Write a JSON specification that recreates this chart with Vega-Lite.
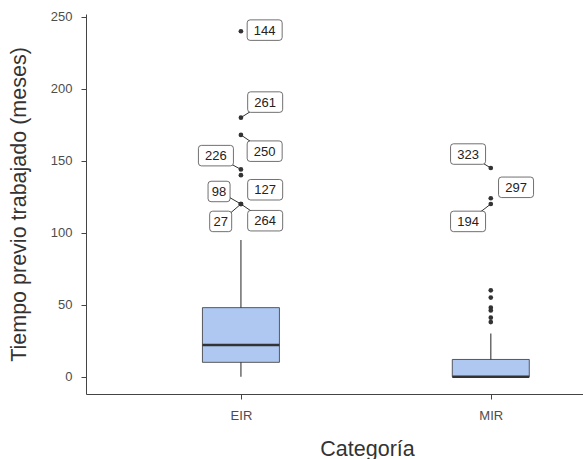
{
  "$schema": "https://vega.github.io/schema/vega-lite/v6.json",
  "autosize": {"type": "none"},
  "padding": {"left": 86, "top": 14, "right": 0, "bottom": 65},
  "width": 497,
  "height": 380,
  "background": "white",
  "config": {
    "view": {"stroke": null},
    "axis": {"grid": false, "tickSize": 5, "domainColor": "#444444", "tickColor": "#444444", "labelColor": "#4d4d4d",
      "labelFontSize": 13, "titleFontSize": 21.5, "titleColor": "#333333", "labelFont": "Liberation Sans",
      "titleFont": "Liberation Sans", "titleFontWeight": "normal"}
  },
  "datasets": {
    "stats": [
      {"cat": 1, "lower": 0, "q1": 10, "median": 22, "q3": 48, "upper": 95},
      {"cat": 2, "lower": 0, "q1": 0, "median": 0, "q3": 12, "upper": 30}
    ],
    "out": [
      {"cat": 1, "value": 240, "id": 144, "lx": 1.095, "ly": 240.8},
      {"cat": 1, "value": 180, "id": 261, "lx": 1.097, "ly": 190.8},
      {"cat": 1, "value": 168, "id": 250, "lx": 1.095, "ly": 156.7},
      {"cat": 1, "value": 144, "id": 226, "lx": 0.9, "ly": 153.6},
      {"cat": 1, "value": 140, "id": 127, "lx": 1.097, "ly": 129.9},
      {"cat": 1, "value": 120, "id": 98, "lx": 0.9125, "ly": 128.7},
      {"cat": 1, "value": 120, "id": 27, "lx": 0.919, "ly": 107.9},
      {"cat": 1, "value": 120, "id": 264, "lx": 1.097, "ly": 108.4},
      {"cat": 2, "value": 145, "id": 323, "lx": 1.909, "ly": 154.7},
      {"cat": 2, "value": 124, "id": 297, "lx": 2.101, "ly": 131.6},
      {"cat": 2, "value": 120, "id": 194, "lx": 1.909, "ly": 107.9},
      {"cat": 2, "value": 60, "id": null, "lx": null, "ly": null},
      {"cat": 2, "value": 55, "id": null, "lx": null, "ly": null},
      {"cat": 2, "value": 48, "id": null, "lx": null, "ly": null},
      {"cat": 2, "value": 46, "id": null, "lx": null, "ly": null},
      {"cat": 2, "value": 41, "id": null, "lx": null, "ly": null},
      {"cat": 2, "value": 38, "id": null, "lx": null, "ly": null}
    ]
  },
  "layer": [
    {
      "data": {"name": "stats"},
      "mark": {"type": "rule", "color": "#555555", "strokeWidth": 1.3},
      "encoding": {
        "x": {"field": "cat", "type": "quantitative", "scale": {"domain": [0.4, 2.349], "nice": false, "zero": false},
          "axis": {"values": [1, 2], "labelExpr": "datum.value == 1 ? 'EIR' : 'MIR'", "title": "Categoría", "titleX": 281, "labelPadding": 10, "titlePadding": 16}},
        "y": {"field": "lower", "type": "quantitative", "scale": {"domain": [-12, 252], "nice": false, "zero": false},
          "axis": {"values": [0, 50, 100, 150, 200, 250], "title": "Tiempo previo trabajado (meses)", "labelPadding": 9, "titlePadding": 20}},
        "y2": {"field": "upper"}
      }
    },
    {
      "data": {"name": "stats"},
      "mark": {"type": "bar", "width": 77, "fill": "#aec8f2", "stroke": "#333333", "strokeWidth": 0.8},
      "encoding": {
        "x": {"field": "cat", "type": "quantitative", "scale": {"domain": [0.4, 2.349], "nice": false, "zero": false},
          "axis": {"values": [1, 2], "labelExpr": "datum.value == 1 ? 'EIR' : 'MIR'", "title": "Categoría", "titleX": 281, "labelPadding": 10, "titlePadding": 16}},
        "y": {"field": "q1", "type": "quantitative", "scale": {"domain": [-12, 252], "nice": false, "zero": false},
          "axis": {"values": [0, 50, 100, 150, 200, 250], "title": "Tiempo previo trabajado (meses)", "labelPadding": 9, "titlePadding": 20}},
        "y2": {"field": "q3"}
      }
    },
    {
      "data": {"name": "stats"},
      "mark": {"type": "tick", "orient": "horizontal", "size": 77, "thickness": 2.5, "color": "#333333", "opacity": 1},
      "encoding": {
        "x": {"field": "cat", "type": "quantitative", "scale": {"domain": [0.4, 2.349], "nice": false, "zero": false},
          "axis": {"values": [1, 2], "labelExpr": "datum.value == 1 ? 'EIR' : 'MIR'", "title": "Categoría", "titleX": 281, "labelPadding": 10, "titlePadding": 16}},
        "y": {"field": "median", "type": "quantitative", "scale": {"domain": [-12, 252], "nice": false, "zero": false},
          "axis": {"values": [0, 50, 100, 150, 200, 250], "title": "Tiempo previo trabajado (meses)", "labelPadding": 9, "titlePadding": 20}}
      }
    },
    {
      "data": {"name": "out"},
      "transform": [{"filter": "datum.id != null && indexof([144, 127, 297], datum.id) < 0"}],
      "mark": {"type": "rule", "color": "#333333", "strokeWidth": 1},
      "encoding": {
        "x": {"field": "cat", "type": "quantitative", "scale": {"domain": [0.4, 2.349], "nice": false, "zero": false},
          "axis": {"values": [1, 2], "labelExpr": "datum.value == 1 ? 'EIR' : 'MIR'", "title": "Categoría", "titleX": 281, "labelPadding": 10, "titlePadding": 16}},
        "y": {"field": "value", "type": "quantitative", "scale": {"domain": [-12, 252], "nice": false, "zero": false},
          "axis": {"values": [0, 50, 100, 150, 200, 250], "title": "Tiempo previo trabajado (meses)", "labelPadding": 9, "titlePadding": 20}},
        "x2": {"field": "lx"},
        "y2": {"field": "ly"}
      }
    },
    {
      "data": {"name": "out"},
      "mark": {"type": "point", "filled": true, "color": "#333333", "size": 22, "opacity": 1},
      "encoding": {
        "x": {"field": "cat", "type": "quantitative", "scale": {"domain": [0.4, 2.349], "nice": false, "zero": false},
          "axis": {"values": [1, 2], "labelExpr": "datum.value == 1 ? 'EIR' : 'MIR'", "title": "Categoría", "titleX": 281, "labelPadding": 10, "titlePadding": 16}},
        "y": {"field": "value", "type": "quantitative", "scale": {"domain": [-12, 252], "nice": false, "zero": false},
          "axis": {"values": [0, 50, 100, 150, 200, 250], "title": "Tiempo previo trabajado (meses)", "labelPadding": 9, "titlePadding": 20}}
      }
    },
    {
      "data": {"name": "out"},
      "transform": [{"filter": "datum.id != null && datum.id >= 100"}],
      "mark": {"type": "point", "filled": true, "fill": "white", "stroke": "#333333", "strokeWidth": 0.7, "opacity": 1, "fillOpacity": 1, "size": 1225,
        "shape": "M-0.83,-0.586 L0.83,-0.586 Q1,-0.586 1,-0.416 L1,0.416 Q1,0.586 0.83,0.586 L-0.83,0.586 Q-1,0.586 -1,0.416 L-1,-0.416 Q-1,-0.586 -0.83,-0.586 Z"},
      "encoding": {
        "x": {"field": "lx", "type": "quantitative", "scale": {"domain": [0.4, 2.349], "nice": false, "zero": false},
          "axis": {"values": [1, 2], "labelExpr": "datum.value == 1 ? 'EIR' : 'MIR'", "title": "Categoría", "titleX": 281, "labelPadding": 10, "titlePadding": 16}},
        "y": {"field": "ly", "type": "quantitative", "scale": {"domain": [-12, 252], "nice": false, "zero": false},
          "axis": {"values": [0, 50, 100, 150, 200, 250], "title": "Tiempo previo trabajado (meses)", "labelPadding": 9, "titlePadding": 20}}
      }
    },
    {
      "data": {"name": "out"},
      "transform": [{"filter": "datum.id != null && datum.id < 100"}],
      "mark": {"type": "point", "filled": true, "fill": "white", "stroke": "#333333", "strokeWidth": 0.7, "opacity": 1, "fillOpacity": 1, "size": 484,
        "shape": "M-0.73,-0.93 L0.73,-0.93 Q1,-0.93 1,-0.66 L1,0.66 Q1,0.93 0.73,0.93 L-0.73,0.93 Q-1,0.93 -1,0.66 L-1,-0.66 Q-1,-0.93 -0.73,-0.93 Z"},
      "encoding": {
        "x": {"field": "lx", "type": "quantitative", "scale": {"domain": [0.4, 2.349], "nice": false, "zero": false},
          "axis": {"values": [1, 2], "labelExpr": "datum.value == 1 ? 'EIR' : 'MIR'", "title": "Categoría", "titleX": 281, "labelPadding": 10, "titlePadding": 16}},
        "y": {"field": "ly", "type": "quantitative", "scale": {"domain": [-12, 252], "nice": false, "zero": false},
          "axis": {"values": [0, 50, 100, 150, 200, 250], "title": "Tiempo previo trabajado (meses)", "labelPadding": 9, "titlePadding": 20}}
      }
    },
    {
      "data": {"name": "out"},
      "transform": [{"filter": "datum.id != null"}],
      "mark": {"type": "text", "font": "Liberation Sans", "fontSize": 13, "color": "#222222", "align": "center", "baseline": "middle", "dy": 0.5},
      "encoding": {
        "x": {"field": "lx", "type": "quantitative", "scale": {"domain": [0.4, 2.349], "nice": false, "zero": false},
          "axis": {"values": [1, 2], "labelExpr": "datum.value == 1 ? 'EIR' : 'MIR'", "title": "Categoría", "titleX": 281, "labelPadding": 10, "titlePadding": 16}},
        "y": {"field": "ly", "type": "quantitative", "scale": {"domain": [-12, 252], "nice": false, "zero": false},
          "axis": {"values": [0, 50, 100, 150, 200, 250], "title": "Tiempo previo trabajado (meses)", "labelPadding": 9, "titlePadding": 20}},
        "text": {"field": "id", "type": "quantitative", "format": "d"}
      }
    }
  ]
}
